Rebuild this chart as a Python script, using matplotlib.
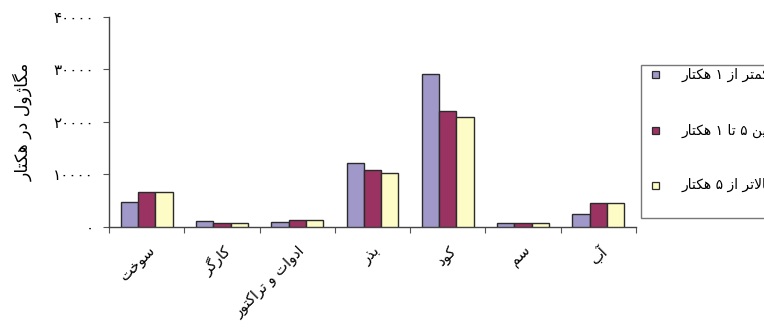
import matplotlib
matplotlib.use("Agg")
import matplotlib.pyplot as plt
from matplotlib.patches import Rectangle
import numpy as np

# ---------------- data ----------------
categories = ["سوخت", "کارگر", "ادوات و تراکتور", "بذر", "کود", "سم", "آب"]
series_names = ["کمتر از ۱ هکتار", "بین ۵ تا ۱ هکتار", "بالاتر از ۵ هکتار"]
small_farms = [4700, 1100, 950, 12200, 29100, 600, 2400]
medium_farms = [6600, 700, 1200, 10800, 22000, 600, 4500]
large_farms = [6600, 650, 1200, 10300, 21000, 600, 4500]
y_ticks = [0, 10000, 20000, 30000, 40000]
y_tick_labels = ["۰", "۱۰۰۰۰", "۲۰۰۰۰", "۳۰۰۰۰", "۴۰۰۰۰"]
y_label = "مگاژول در هکتار"

colors = ["#A098C8", "#9A3262", "#FDFBC6"]
edge = "#2b2b2b"

# ---------------- minimal Persian shaping (contextual forms + RTL order) ----------------
FORMS = {
    '\u0627': ('\uFE8D', '\uFE8E', None, None),
    '\u0622': ('\uFE81', '\uFE82', None, None),
    '\u0628': ('\uFE8F', '\uFE90', '\uFE91', '\uFE92'),
    '\u062A': ('\uFE95', '\uFE96', '\uFE97', '\uFE98'),
    '\u062E': ('\uFEA5', '\uFEA6', '\uFEA7', '\uFEA8'),
    '\u062F': ('\uFEA9', '\uFEAA', None, None),
    '\u0630': ('\uFEAB', '\uFEAC', None, None),
    '\u0631': ('\uFEAD', '\uFEAE', None, None),
    '\u0632': ('\uFEAF', '\uFEB0', None, None),
    '\u0698': ('\uFB8A', '\uFB8B', None, None),
    '\u0633': ('\uFEB1', '\uFEB2', '\uFEB3', '\uFEB4'),
    '\u0644': ('\uFEDD', '\uFEDE', '\uFEDF', '\uFEE0'),
    '\u0645': ('\uFEE1', '\uFEE2', '\uFEE3', '\uFEE4'),
    '\u0646': ('\uFEE5', '\uFEE6', '\uFEE7', '\uFEE8'),
    '\u0647': ('\uFEE9', '\uFEEA', '\uFEEB', '\uFEEC'),
    '\u0648': ('\uFEED', '\uFEEE', None, None),
    '\u06A9': ('\uFB8E', '\uFB8F', '\uFB90', '\uFB91'),
    '\u06AF': ('\uFB92', '\uFB93', '\uFB94', '\uFB95'),
    '\u06CC': ('\uFBFC', '\uFBFD', '\uFBFE', '\uFBFF'),
}
LAM_ALEF = {'\u0627': ('\uFEFB', '\uFEFC'), '\u0622': ('\uFEF5', '\uFEF6')}


def dual(c):
    return c in FORMS and FORMS[c][2] is not None


def shape(s):
    out = []
    i = 0
    n = len(s)
    while i < n:
        c = s[i]
        if c not in FORMS:
            out.append(c)
            i += 1
            continue
        prev = s[i - 1] if i > 0 else ''
        cp = dual(prev)
        if c == '\u0644' and i + 1 < n and s[i + 1] in LAM_ALEF:
            iso, fin = LAM_ALEF[s[i + 1]]
            out.append(fin if cp else iso)
            i += 2
            continue
        nxt = s[i + 1] if i + 1 < n else ''
        cn = dual(c) and nxt in FORMS
        iso, fin, ini, med = FORMS[c]
        if cp and cn:
            out.append(med)
        elif cp:
            out.append(fin)
        elif cn:
            out.append(ini)
        else:
            out.append(iso)
        i += 1
    # visual order: reverse, keeping digit runs in logical order
    vis = out[::-1]
    res, run = [], []
    for ch in vis:
        if '\u06F0' <= ch <= '\u06F9' or ch.isdigit():
            run.append(ch)
        else:
            if run:
                res.extend(run[::-1])
                run = []
            res.append(ch)
    if run:
        res.extend(run[::-1])
    return ''.join(res)


plt.rcParams['font.family'] = ['DejaVu Sans']

# ---------------- figure ----------------
W, H = 764, 330
fig = plt.figure(figsize=(W / 100, H / 100), dpi=100)
ax = fig.add_axes([109 / W, 1 - 226.5 / H, (636 - 109) / W, (226.5 - 17) / H])

x = np.arange(len(categories))
bw = 0.23
for k, (vals, col) in enumerate(zip([small_farms, medium_farms, large_farms], colors)):
    ax.bar(x + (k - 1) * bw, vals, width=bw, color=col, edgecolor=edge, linewidth=1.0, zorder=3)

ax.set_xlim(-0.5, len(categories) - 0.5)
ax.set_ylim(0, 40000)
ax.set_yticks(y_ticks)
ax.set_yticklabels(y_tick_labels, fontsize=11)

ax.set_xticks(np.arange(len(categories) + 1) - 0.5)
ax.set_xticklabels([])
ax.set_xticks(x, minor=True)
ax.set_xticklabels([shape(c) for c in categories], minor=True, rotation=45,
                   ha='right', va='top', rotation_mode='anchor', fontsize=10.5)
ax.tick_params(axis='x', which='minor', length=0, pad=12)
ax.tick_params(axis='x', which='major', length=4, direction='out', color='#555555')
ax.tick_params(axis='y', length=4, direction='out', color='#555555', pad=7)

for s in ['top', 'right']:
    ax.spines[s].set_visible(False)
for s in ['left', 'bottom']:
    ax.spines[s].set_color('#444444')
    ax.spines[s].set_linewidth(1.0)

ax.set_ylabel(shape(y_label), fontsize=12.5, labelpad=12)
ax.yaxis.set_label_coords(-0.145, 0.5)

# ---------------- legend (cut at right edge as in reference) ----------------
fig.patches.append(Rectangle((641 / W, 1 - 218 / H), 200 / W, (218 - 65) / H,
                             transform=fig.transFigure, facecolor='white',
                             edgecolor='#777777', linewidth=1.0, zorder=5))
rows_y = [74.5, 130.5, 185]
for name, col, yy in zip(series_names, colors, rows_y):
    fig.patches.append(Rectangle((651.5 / W, 1 - (yy + 3.5) / H), 7 / W, 7 / H,
                                 transform=fig.transFigure, facecolor=col,
                                 edgecolor=edge, linewidth=0.9, zorder=6))
    fig.text(682 / W, 1 - yy / H, shape(name), ha='left', va='center',
             fontsize=10, zorder=7)

fig.savefig("out.png", dpi=100)
